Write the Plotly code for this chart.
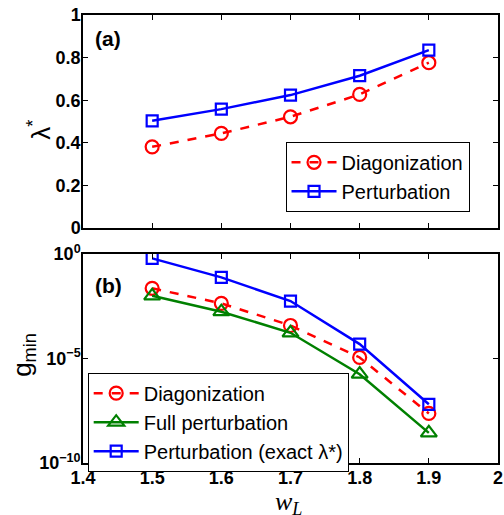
import plotly.graph_objects as go

w = [1.5, 1.6, 1.7, 1.8, 1.9]
lam_diag = [0.381, 0.444, 0.522, 0.627, 0.776]
lam_pert = [0.503, 0.558, 0.624, 0.715, 0.835]
g_diag = [10**-1.64, 10**-2.36, 10**-3.42, 10**-4.95, 10**-7.63]
g_full = [10**-2.0, 10**-2.76, 10**-3.77, 10**-5.75, 10**-8.56]
g_exact = [10**-0.21, 10**-1.12, 10**-2.25, 10**-4.31, 10**-7.19]

x_ticks = [1.4, 1.5, 1.6, 1.7, 1.8, 1.9, 2.0]
x_ticktext = ["1.4", "1.5", "1.6", "1.7", "1.8", "1.9", "2"]
y1_ticks = [0, 0.2, 0.4, 0.6, 0.8, 1]
y1_ticktext = ["0", "0.2", "0.4", "0.6", "0.8", "1"]
y2_ticks = [1e-10, 1e-5, 1]
y2_ticktext = ["10<sup>\u221210</sup>", "10<sup>\u22125</sup>", "10<sup>0</sup>"]

RED = "#ff0000"
BLUE = "#0000ff"
GREEN = "#008000"

fig = go.Figure()
fig.add_trace(go.Scatter(x=w, y=lam_diag, name="Diagonization", mode="lines+markers",
    line=dict(color=RED, width=2.5, dash="dash"),
    marker=dict(symbol="circle-open", size=13, color=RED, line=dict(width=2.2)),
    xaxis="x", yaxis="y", legend="legend"))
fig.add_trace(go.Scatter(x=w, y=lam_pert, name="Perturbation", mode="lines+markers",
    line=dict(color=BLUE, width=2.5),
    marker=dict(symbol="square-open", size=11, color=BLUE, line=dict(width=2.2)),
    xaxis="x", yaxis="y", legend="legend"))

fig.add_trace(go.Scatter(x=w, y=g_diag, name="Diagonization", mode="lines+markers",
    line=dict(color=RED, width=2.5, dash="dash"),
    marker=dict(symbol="circle-open", size=13, color=RED, line=dict(width=2.2)),
    xaxis="x2", yaxis="y2", legend="legend2"))
fig.add_trace(go.Scatter(x=w, y=g_full, name="Full perturbation", mode="lines+markers",
    line=dict(color=GREEN, width=2.5),
    marker=dict(symbol="triangle-up-open", size=14, color=GREEN, line=dict(width=2.2)),
    xaxis="x2", yaxis="y2", legend="legend2"))
fig.add_trace(go.Scatter(x=w, y=g_exact, name="Perturbation (exact \u03bb*)", mode="lines+markers",
    line=dict(color=BLUE, width=2.5),
    marker=dict(symbol="square-open", size=11, color=BLUE, line=dict(width=2.2)),
    xaxis="x2", yaxis="y2", legend="legend2"))

axis_common = dict(showline=True, linecolor="black", linewidth=1.5, mirror="ticks",
                   ticks="inside", ticklen=5, tickcolor="black", tickwidth=1,
                   showgrid=False, zeroline=False, automargin=False,
                   ticklabeloverflow="allow",
                   tickfont=dict(family="Liberation Sans", size=18, color="black", weight="bold"))

legend_common = dict(xanchor="left", yanchor="top", itemwidth=45,
                     bgcolor="white", bordercolor="black", borderwidth=1,
                     font=dict(family="Liberation Sans", size=20, color="black"))

fig.update_layout(
    width=504, height=515,
    margin=dict(l=83, r=6, t=15, b=52),
    plot_bgcolor="white", paper_bgcolor="white",
    xaxis=dict(domain=[0, 1], range=[1.4, 2.0], tickvals=x_ticks, ticktext=x_ticktext,
               showticklabels=False, anchor="y", **axis_common),
    yaxis=dict(domain=[0.5246, 1], range=[0, 1], tickvals=y1_ticks, ticktext=y1_ticktext,
               anchor="x", ticklabelstandoff=-3, **axis_common),
    xaxis2=dict(domain=[0, 1], range=[1.4, 2.0], tickvals=x_ticks, ticktext=x_ticktext,
                anchor="y2", ticklabelstandoff=-2, **axis_common),
    yaxis2=dict(domain=[0, 0.4665], type="log", range=[-10, 0], tickvals=y2_ticks, ticktext=y2_ticktext,
                anchor="x2", ticklabelstandoff=-3, **axis_common),
    legend=dict(x=0.488, y=0.717, **legend_common),
    legend2=dict(x=0.0113, y=0.2016, **legend_common),
)

title_font = dict(family="Liberation Sans", size=26, color="black")
fig.add_annotation(text="\u03bb<sup>*</sup>", xref="paper", yref="paper", x=-0.105, y=0.745,
                   textangle=-90, xanchor="center", yanchor="middle", showarrow=False, font=title_font)
fig.add_annotation(text="g<sub>min</sub>", xref="paper", yref="paper", x=-0.145, y=0.241,
                   textangle=-90, xanchor="center", yanchor="middle", showarrow=False, font=title_font)
fig.add_annotation(text="w<sub>L</sub>", xref="paper", yref="paper", x=0.496, y=-0.089,
                   xanchor="center", yanchor="middle", showarrow=False,
                   font=dict(family="Liberation Serif", size=26, color="black", style="italic"))

fig.add_annotation(text="<b>(a)</b>", xref="x", yref="y", x=1.415, y=0.89, xanchor="left", yanchor="middle",
                   showarrow=False, font=dict(family="Liberation Sans", size=21, color="black"))
fig.add_annotation(text="<b>(b)</b>", xref="x2", yref="y2", x=1.415, y=-1.5, xanchor="left", yanchor="middle",
                   showarrow=False, font=dict(family="Liberation Sans", size=21, color="black"))

fig.write_html("out.html", config={"displayModeBar": False},
               post_script="document.body.style.margin='0';document.body.style.overflow='hidden';")
